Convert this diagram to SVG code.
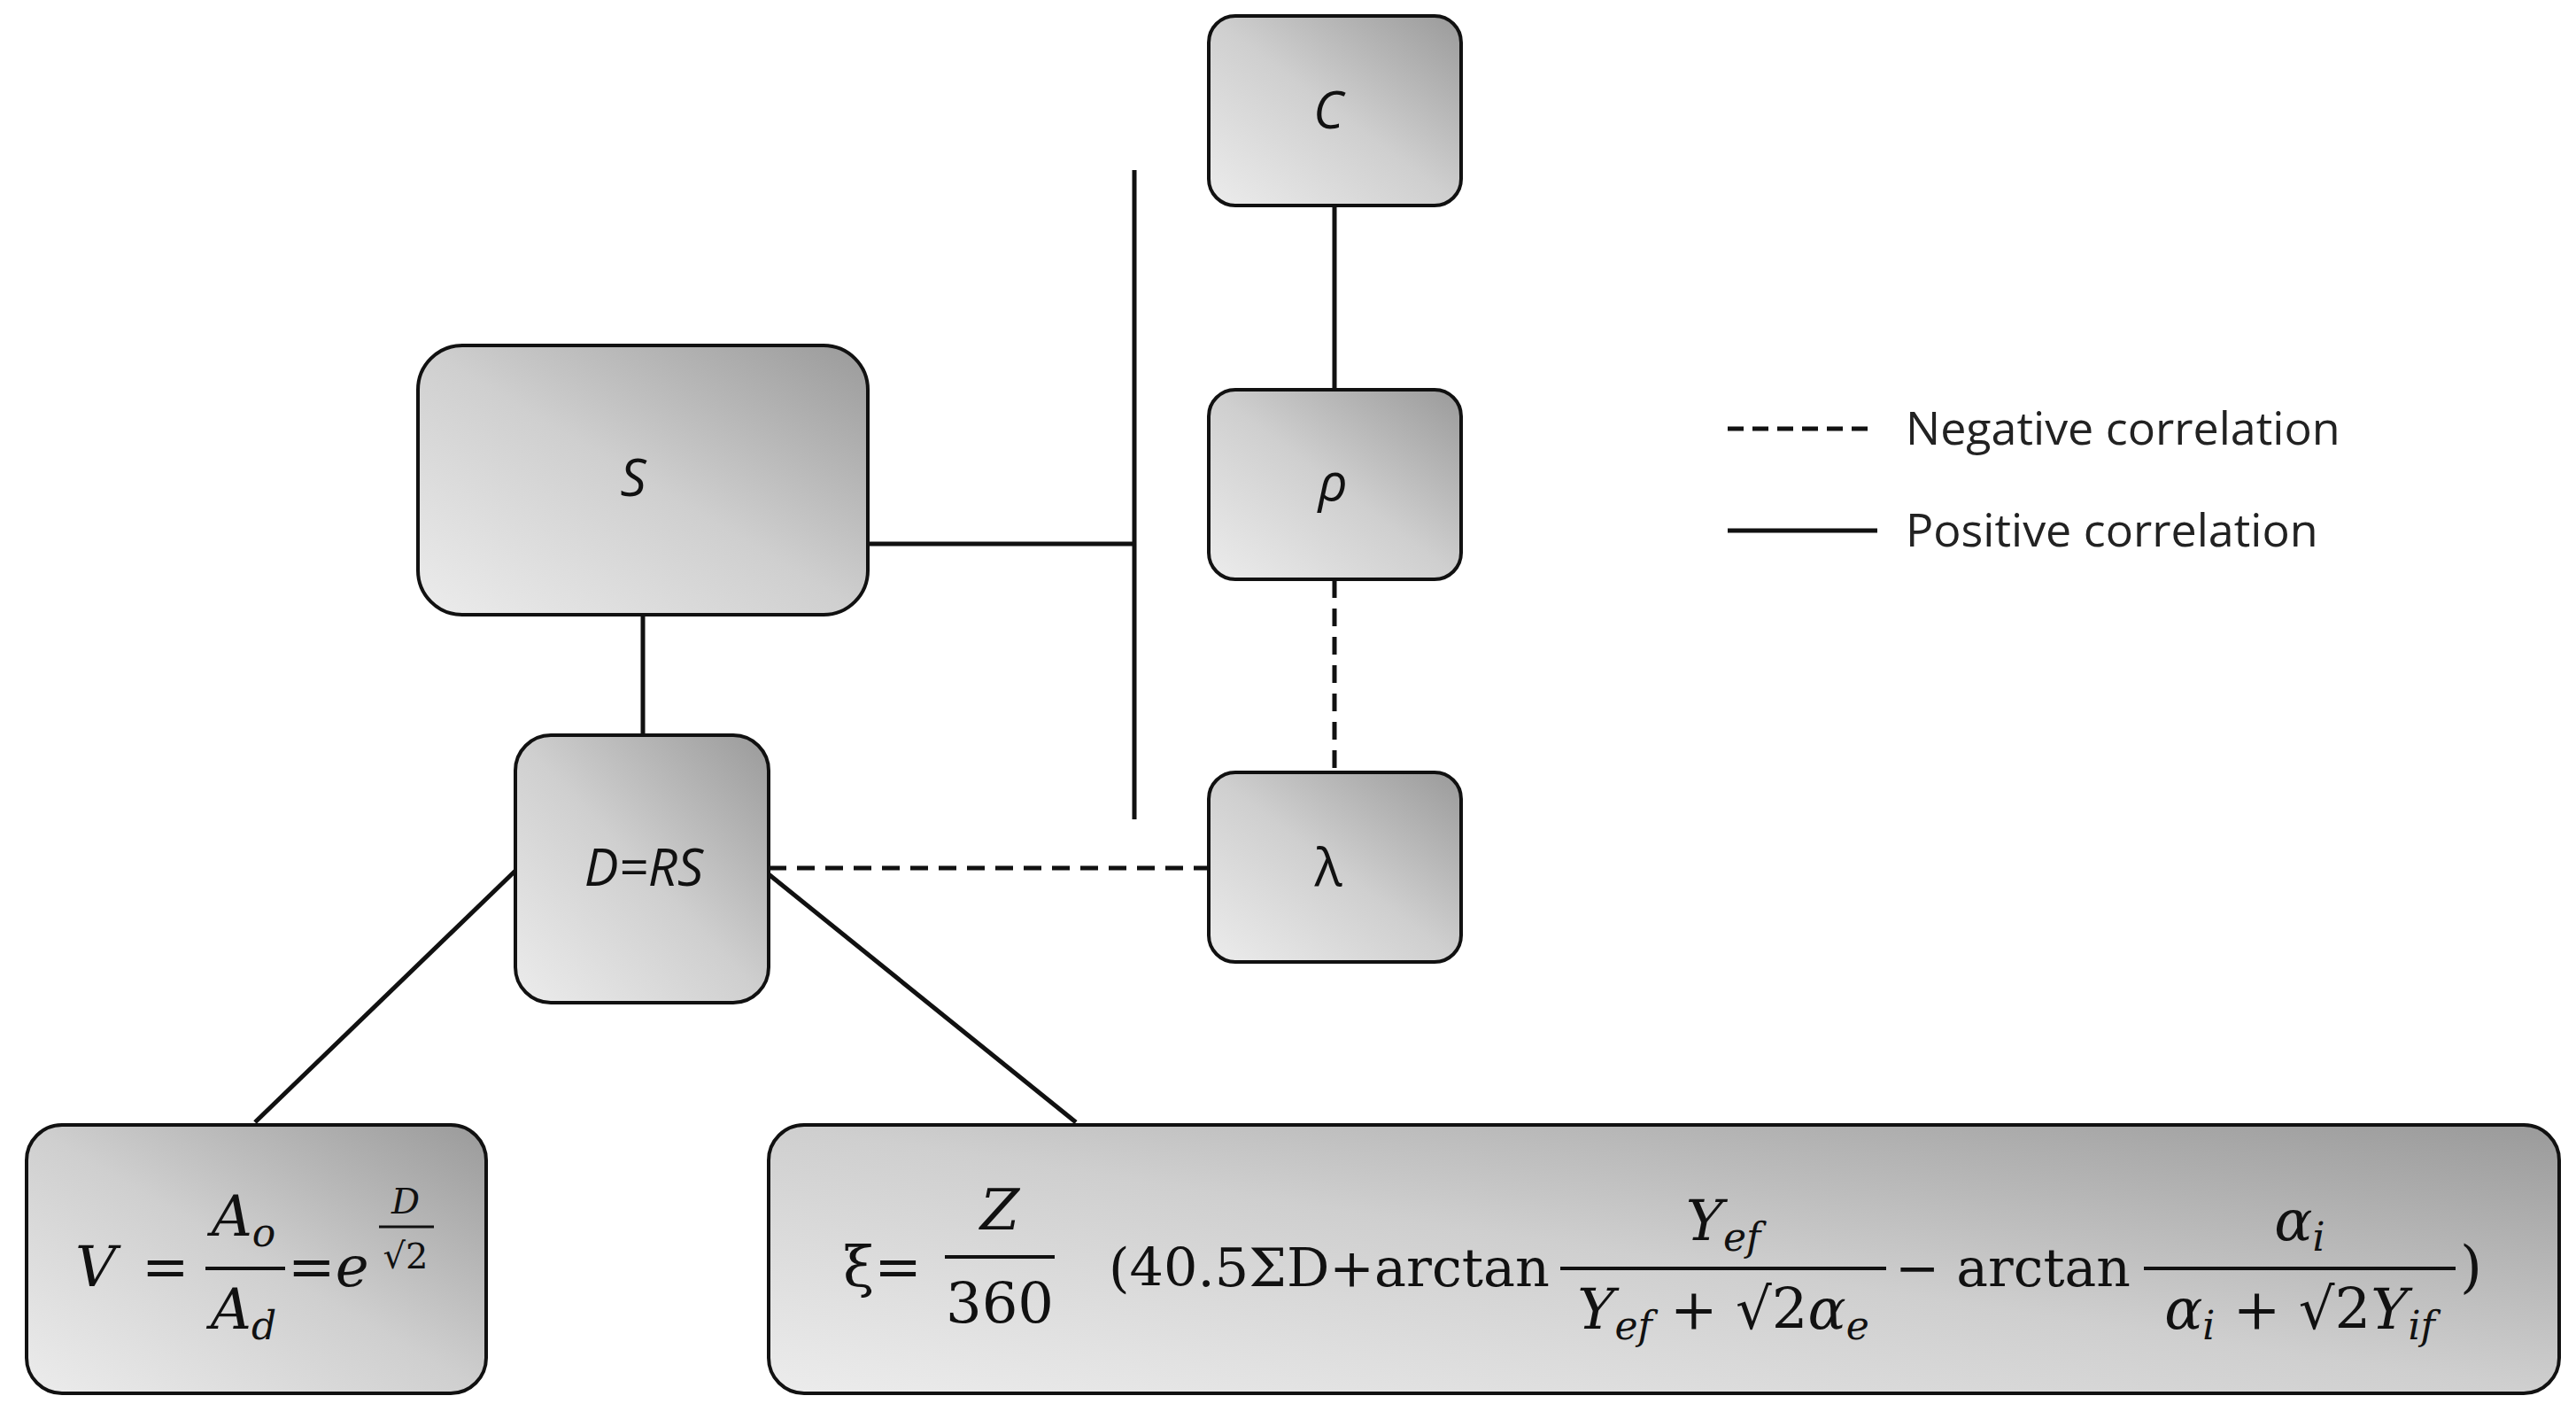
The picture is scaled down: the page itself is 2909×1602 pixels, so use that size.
<svg xmlns="http://www.w3.org/2000/svg" width="2909" height="1602" viewBox="0 0 2909 1602">
<defs>
<linearGradient id="g" x1="0" y1="1" x2="1" y2="0">
<stop offset="0" stop-color="#ececec"/><stop offset="0.5" stop-color="#cfcfcf"/><stop offset="1" stop-color="#9a9a9a"/>
</linearGradient>
</defs>
<style>
.box{fill:url(#g);stroke:#111;stroke-width:4}
.ln{stroke:#111;stroke-width:5;fill:none}
.ds{stroke:#111;stroke-width:5;fill:none;stroke-dasharray:20 12}
.lab{font-family:"Open Sans",sans-serif;font-style:italic;font-size:58px;text-anchor:middle;fill:#111}
.leg{font-family:"Open Sans",sans-serif;font-size:52px;fill:#222}
.m{font-family:"DejaVu Serif",serif;font-size:64px;fill:#111}
.mi{font-family:"DejaVu Serif",serif;font-style:italic;font-size:64px;fill:#111}
.sub{font-size:44px}
.c{text-anchor:middle}
</style>
<rect width="2909" height="1602" fill="#fff"/>
<g id="connectors">
<line class="ln" x1="980" y1="614" x2="1281" y2="614"/>
<line class="ln" x1="1281" y1="192" x2="1281" y2="925"/>
<line class="ln" x1="1507" y1="234" x2="1507" y2="440"/>
<line class="ds" x1="1507" y1="655" x2="1507" y2="870"/>
<line class="ln" x1="726" y1="694" x2="726" y2="830"/>
<line class="ds" x1="868" y1="980" x2="1363" y2="980"/>
<line class="ln" x1="582" y1="983" x2="288" y2="1267"/>
<line class="ln" x1="868" y1="987" x2="1215" y2="1267"/>
</g>
<g id="node-C"><rect class="box" x="1365" y="18" width="285" height="214" rx="30"/><text class="lab" x="1500" y="145">C</text></g>
<g id="node-rho"><rect class="box" x="1365" y="440" width="285" height="214" rx="30"/><text class="lab" x="1505" y="565">ρ</text></g>
<g id="node-lambda"><rect class="box" x="1365" y="872" width="285" height="214" rx="30"/><text class="lab" x="1500" y="1000" style="font-style:normal">λ</text></g>
<g id="node-S"><rect class="box" x="472" y="390" width="508" height="304" rx="50"/><text class="lab" x="715" y="560">S</text></g>
<g id="node-D"><rect class="box" x="582" y="830" width="286" height="302" rx="40"/><text class="lab" x="727" y="1000">D=RS</text></g>
<g id="node-V"><rect class="box" x="30" y="1270" width="519" height="303" rx="40"/>
<text class="mi" x="85" y="1452">V</text>
<text class="m" x="160" y="1452">=</text>
<text class="mi c" x="275" y="1395">A<tspan class="sub" dy="12">o</tspan></text>
<line class="ln" x1="232" y1="1432" x2="322" y2="1432" style="stroke-width:4"/>
<text class="mi c" x="275" y="1500">A<tspan class="sub" dy="12">d</tspan></text>
<text class="m" x="325" y="1452">=<tspan font-style="italic">e</tspan></text>
<text class="mi c" x="458" y="1370" style="font-size:40px">D</text>
<line class="ln" x1="428" y1="1385" x2="490" y2="1385" style="stroke-width:3"/>
<text class="m c" x="458" y="1432" style="font-size:40px">√2</text>
</g>
<g id="node-xi"><rect class="box" x="868" y="1270" width="2022" height="303" rx="40"/>
<text class="m" x="952" y="1452">ξ=</text>
<text class="mi c" x="1129" y="1388">Z</text>
<line class="ln" x1="1067" y1="1419" x2="1191" y2="1419" style="stroke-width:4"/>
<text class="m c" x="1129" y="1494">360</text>
<text class="m" x="1252" y="1452" style="font-size:60px" textLength="498" lengthAdjust="spacingAndGlyphs">(40.5ΣD+arctan</text>
<text class="mi c" x="1946" y="1400">Y<tspan class="sub" dy="12">ef</tspan></text>
<line class="ln" x1="1762" y1="1432" x2="2130" y2="1432" style="stroke-width:4"/>
<text class="mi c" x="1946" y="1500">Y<tspan class="sub" dy="12">ef</tspan><tspan dy="-12" font-style="normal"> + √2</tspan>α<tspan class="sub" dy="12">e</tspan></text>
<text class="m" x="2140" y="1452" style="font-size:60px">− arctan</text>
<text class="mi c" x="2597" y="1400">α<tspan class="sub" dy="12">i</tspan></text>
<line class="ln" x1="2421" y1="1432" x2="2773" y2="1432" style="stroke-width:4"/>
<text class="mi c" x="2597" y="1500">α<tspan class="sub" dy="12">i</tspan><tspan dy="-12" font-style="normal"> + √2</tspan>Y<tspan class="sub" dy="12">if</tspan></text>
<text class="m" x="2778" y="1452">)</text>
</g>
<g id="legend">
<line class="ds" x1="1951" y1="484" x2="2115" y2="484" style="stroke-dasharray:18 10"/>
<text class="leg" x="2152" y="502">Negative correlation</text>
<line class="ln" x1="1951" y1="599" x2="2120" y2="599"/>
<text class="leg" x="2152" y="617">Positive correlation</text>
</g>
</svg>
